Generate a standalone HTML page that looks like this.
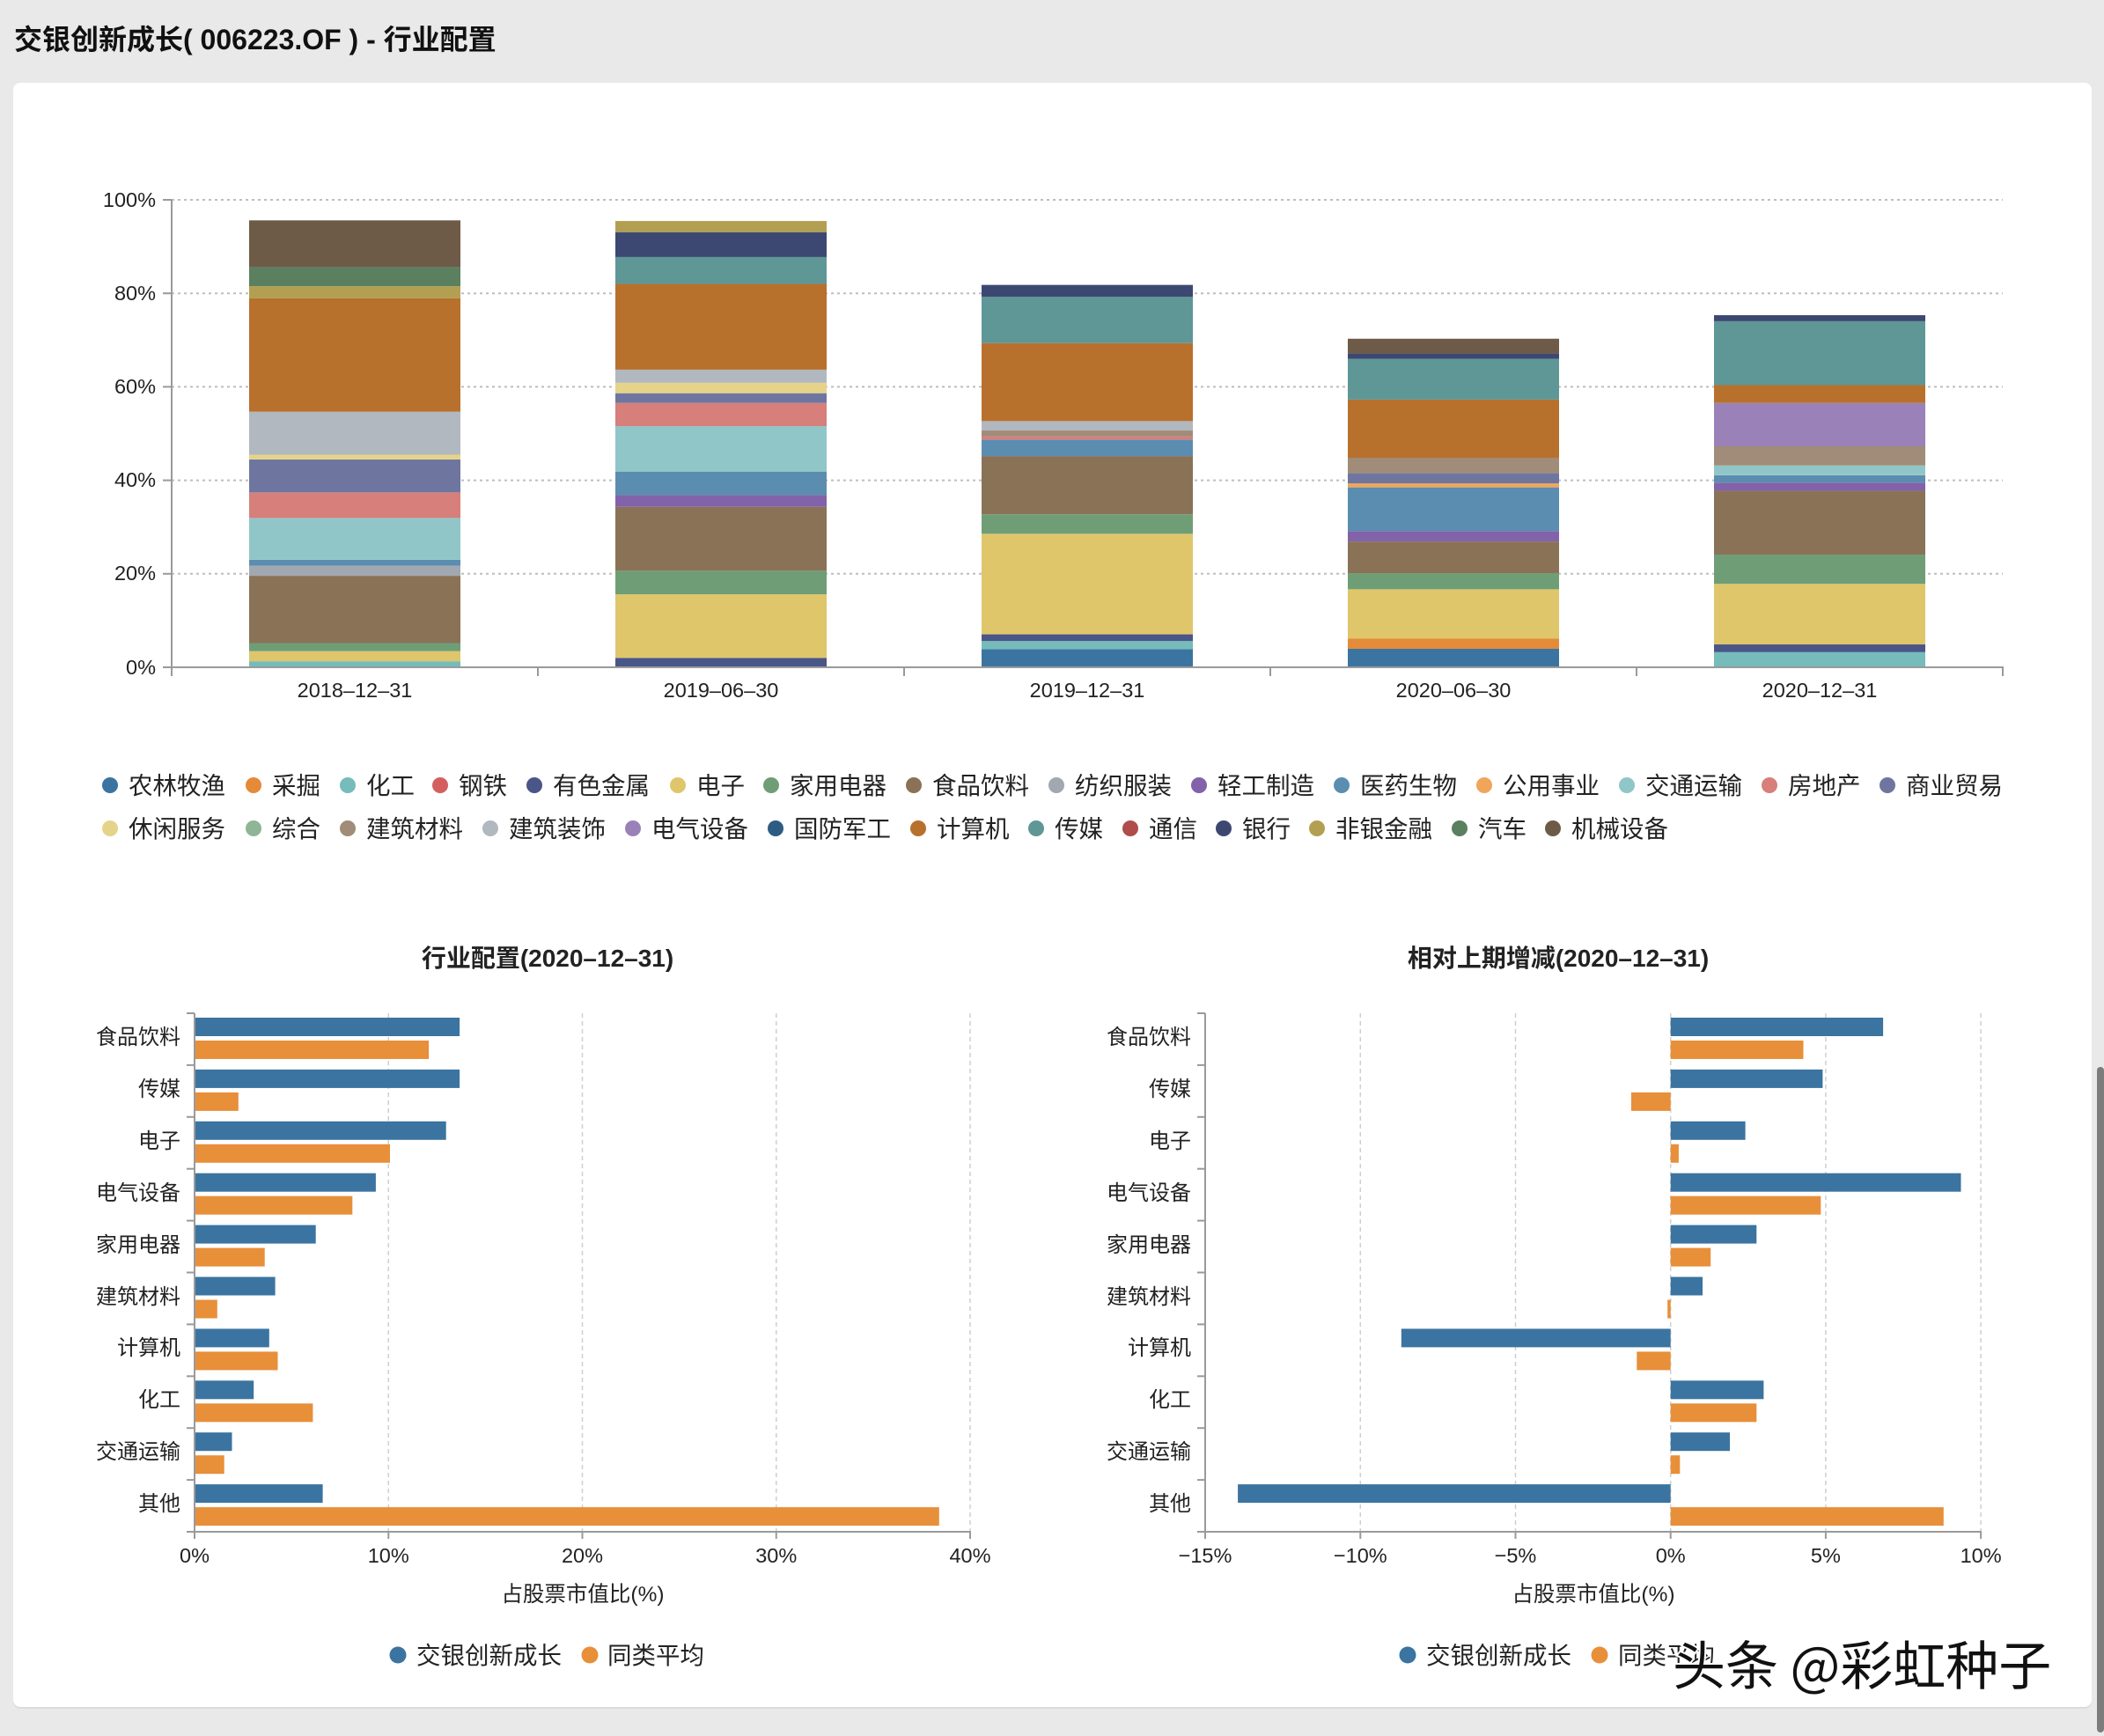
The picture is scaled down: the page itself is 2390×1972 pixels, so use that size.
<!DOCTYPE html>
<html><head><meta charset="utf-8"><style>
html,body{margin:0;padding:0;background:#e9e9e9;width:2390px;height:1972px;overflow:hidden;}
svg{display:block;font-family:"Liberation Sans","Noto Sans CJK SC",sans-serif;}
</style></head><body>
<svg width="2390" height="1972" viewBox="0 0 2390 1972" xmlns="http://www.w3.org/2000/svg">
<rect x="0" y="0" width="2390" height="1972" fill="#e9e9e9"/>
<text x="16" y="56" font-size="32" font-weight="bold" fill="#111">交银创新成长( 006223.OF ) - 行业配置</text>
<rect x="15" y="95" width="2361" height="1846" rx="8" fill="#dcdcdc"/>
<rect x="15" y="94" width="2361" height="1845" rx="8" fill="#ffffff"/>

<!-- Top chart gridlines -->
<g stroke="#bdbdbd" stroke-width="2" stroke-dasharray="3,4">
<line x1="195" y1="227" x2="2275" y2="227"/>
<line x1="195" y1="333.2" x2="2275" y2="333.2"/>
<line x1="195" y1="439.4" x2="2275" y2="439.4"/>
<line x1="195" y1="545.6" x2="2275" y2="545.6"/>
<line x1="195" y1="651.8" x2="2275" y2="651.8"/>
</g>

<!-- stacked bars -->
<g transform="translate(0,758) scale(1,-5.31)">
<!-- bar1 -->
<rect x="283" width="240" y="0" height="1.29" fill="#75bcbb"/>
<rect x="283" width="240" y="1.29" height="2.16" fill="#dfc66b"/>
<rect x="283" width="240" y="3.45" height="1.73" fill="#6f9e76"/>
<rect x="283" width="240" y="5.18" height="14.39" fill="#8a7257"/>
<rect x="283" width="240" y="19.57" height="2.16" fill="#a2a8b2"/>
<rect x="283" width="240" y="21.73" height="1.29" fill="#5b8db1"/>
<rect x="283" width="240" y="23.02" height="8.92" fill="#91c6c8"/>
<rect x="283" width="240" y="31.94" height="5.47" fill="#d67f7b"/>
<rect x="283" width="240" y="37.41" height="7.05" fill="#6e76a0"/>
<rect x="283" width="240" y="44.46" height="1.01" fill="#e6d38a"/>
<rect x="283" width="240" y="45.47" height="9.21" fill="#b2b8c0"/>
<rect x="283" width="240" y="54.68" height="24.24" fill="#b8702d"/>
<rect x="283" width="240" y="78.92" height="2.59" fill="#b39f52"/>
<rect x="283" width="240" y="81.51" height="4.10" fill="#5a8060"/>
<rect x="283" width="240" y="85.61" height="10.00" fill="#6e5b47"/>
<!-- bar2 -->
<rect x="699" width="240" y="0" height="2.01" fill="#4a5588"/>
<rect x="699" width="240" y="2.01" height="13.60" fill="#dfc66b"/>
<rect x="699" width="240" y="15.61" height="5.04" fill="#6f9e76"/>
<rect x="699" width="240" y="20.65" height="13.67" fill="#8a7257"/>
<rect x="699" width="240" y="34.32" height="2.51" fill="#8262a8"/>
<rect x="699" width="240" y="36.83" height="5.04" fill="#5b8db1"/>
<rect x="699" width="240" y="41.87" height="9.71" fill="#91c6c8"/>
<rect x="699" width="240" y="51.58" height="4.97" fill="#d67f7b"/>
<rect x="699" width="240" y="56.55" height="2.08" fill="#6e76a0"/>
<rect x="699" width="240" y="58.63" height="2.23" fill="#e6d38a"/>
<rect x="699" width="240" y="60.86" height="2.81" fill="#b2b8c0"/>
<rect x="699" width="240" y="63.67" height="18.34" fill="#b8702d"/>
<rect x="699" width="240" y="82.01" height="5.76" fill="#5e9796"/>
<rect x="699" width="240" y="87.77" height="5.32" fill="#3d4872"/>
<rect x="699" width="240" y="93.09" height="2.38" fill="#b39f52"/>
<!-- bar3 -->
<rect x="1115" width="240" y="0" height="3.88" fill="#3b74a0"/>
<rect x="1115" width="240" y="3.88" height="1.73" fill="#75bcbb"/>
<rect x="1115" width="240" y="5.61" height="1.44" fill="#4a5588"/>
<rect x="1115" width="240" y="7.05" height="21.51" fill="#dfc66b"/>
<rect x="1115" width="240" y="28.56" height="4.17" fill="#6f9e76"/>
<rect x="1115" width="240" y="32.73" height="12.45" fill="#8a7257"/>
<rect x="1115" width="240" y="45.18" height="3.53" fill="#5b8db1"/>
<rect x="1115" width="240" y="48.71" height="0.71" fill="#d67f7b"/>
<rect x="1115" width="240" y="49.42" height="1.23" fill="#a08c78"/>
<rect x="1115" width="240" y="50.65" height="2.01" fill="#b2b8c0"/>
<rect x="1115" width="240" y="52.66" height="16.69" fill="#b8702d"/>
<rect x="1115" width="240" y="69.35" height="9.93" fill="#5e9796"/>
<rect x="1115" width="240" y="79.28" height="2.52" fill="#3d4872"/>
<!-- bar4 -->
<rect x="1531" width="240" y="0" height="3.96" fill="#3b74a0"/>
<rect x="1531" width="240" y="3.96" height="2.16" fill="#e58a38"/>
<rect x="1531" width="240" y="6.12" height="10.57" fill="#dfc66b"/>
<rect x="1531" width="240" y="16.69" height="3.45" fill="#6f9e76"/>
<rect x="1531" width="240" y="20.14" height="6.77" fill="#8a7257"/>
<rect x="1531" width="240" y="26.91" height="2.23" fill="#8262a8"/>
<rect x="1531" width="240" y="29.14" height="9.35" fill="#5b8db1"/>
<rect x="1531" width="240" y="38.49" height="0.86" fill="#f0a55a"/>
<rect x="1531" width="240" y="39.35" height="2.16" fill="#6e76a0"/>
<rect x="1531" width="240" y="41.51" height="3.31" fill="#a08c78"/>
<rect x="1531" width="240" y="44.82" height="12.45" fill="#b8702d"/>
<rect x="1531" width="240" y="57.27" height="8.70" fill="#5e9796"/>
<rect x="1531" width="240" y="65.97" height="1.15" fill="#3d4872"/>
<rect x="1531" width="240" y="67.12" height="3.17" fill="#6e5b47"/>
<!-- bar5 -->
<rect x="1947" width="240" y="0" height="3.24" fill="#75bcbb"/>
<rect x="1947" width="240" y="3.24" height="1.65" fill="#4a5588"/>
<rect x="1947" width="240" y="4.89" height="12.95" fill="#dfc66b"/>
<rect x="1947" width="240" y="17.84" height="6.26" fill="#6f9e76"/>
<rect x="1947" width="240" y="24.10" height="13.67" fill="#8a7257"/>
<rect x="1947" width="240" y="37.77" height="1.73" fill="#8262a8"/>
<rect x="1947" width="240" y="39.50" height="1.58" fill="#5b8db1"/>
<rect x="1947" width="240" y="41.08" height="2.09" fill="#91c6c8"/>
<rect x="1947" width="240" y="43.17" height="4.10" fill="#a08c78"/>
<rect x="1947" width="240" y="47.27" height="9.28" fill="#9a82b8"/>
<rect x="1947" width="240" y="56.55" height="3.81" fill="#b8702d"/>
<rect x="1947" width="240" y="60.36" height="13.67" fill="#5e9796"/>
<rect x="1947" width="240" y="74.03" height="1.29" fill="#3d4872"/>
</g>

<!-- top axes -->
<g stroke="#9a9a9a" stroke-width="2">
<line x1="195" y1="227" x2="195" y2="759"/>
<line x1="185" y1="758" x2="2276" y2="758"/>
<line x1="185" y1="227" x2="195" y2="227"/>
<line x1="185" y1="333.2" x2="195" y2="333.2"/>
<line x1="185" y1="439.4" x2="195" y2="439.4"/>
<line x1="185" y1="545.6" x2="195" y2="545.6"/>
<line x1="185" y1="651.8" x2="195" y2="651.8"/>
<line x1="195" y1="758" x2="195" y2="768"/>
<line x1="611" y1="758" x2="611" y2="768"/>
<line x1="1027" y1="758" x2="1027" y2="768"/>
<line x1="1443" y1="758" x2="1443" y2="768"/>
<line x1="1859" y1="758" x2="1859" y2="768"/>
<line x1="2275" y1="758" x2="2275" y2="768"/>
</g>
<g font-size="23.5" fill="#222" text-anchor="end">
<text x="177" y="235">100%</text>
<text x="177" y="341">80%</text>
<text x="177" y="447">60%</text>
<text x="177" y="553">40%</text>
<text x="177" y="659">20%</text>
<text x="177" y="766">0%</text>
</g>
<g font-size="23.5" fill="#222" text-anchor="middle">
<text x="403" y="792">2018–12–31</text>
<text x="819" y="792">2019–06–30</text>
<text x="1235" y="792">2019–12–31</text>
<text x="1651" y="792">2020–06–30</text>
<text x="2067" y="792">2020–12–31</text>
</g>

<!-- top legend -->
<g font-size="27.5" fill="#222">
<circle cx="125" cy="892" r="9" fill="#3b74a0"/><text x="146" y="902">农林牧渔</text>
<circle cx="288" cy="892" r="9" fill="#e58a38"/><text x="309" y="902">采掘</text>
<circle cx="395" cy="892" r="9" fill="#75bcbb"/><text x="416" y="902">化工</text>
<circle cx="500" cy="892" r="9" fill="#d55f5f"/><text x="521" y="902">钢铁</text>
<circle cx="607" cy="892" r="9" fill="#4a5588"/><text x="628" y="902">有色金属</text>
<circle cx="770" cy="892" r="9" fill="#dfc66b"/><text x="791" y="902">电子</text>
<circle cx="876" cy="892" r="9" fill="#6f9e76"/><text x="897" y="902">家用电器</text>
<circle cx="1038" cy="892" r="9" fill="#8a7257"/><text x="1059" y="902">食品饮料</text>
<circle cx="1200" cy="892" r="9" fill="#a2a8b2"/><text x="1221" y="902">纺织服装</text>
<circle cx="1362" cy="892" r="9" fill="#8262a8"/><text x="1383" y="902">轻工制造</text>
<circle cx="1524" cy="892" r="9" fill="#5b8db1"/><text x="1545" y="902">医药生物</text>
<circle cx="1686" cy="892" r="9" fill="#f0a55a"/><text x="1707" y="902">公用事业</text>
<circle cx="1848" cy="892" r="9" fill="#91c6c8"/><text x="1869" y="902">交通运输</text>
<circle cx="2010" cy="892" r="9" fill="#d67f7b"/><text x="2031" y="902">房地产</text>
<circle cx="2144" cy="892" r="9" fill="#6e76a0"/><text x="2165" y="902">商业贸易</text>

<circle cx="125" cy="941" r="9" fill="#e6d38a"/><text x="146" y="951">休闲服务</text>
<circle cx="288" cy="941" r="9" fill="#8db596"/><text x="309" y="951">综合</text>
<circle cx="395" cy="941" r="9" fill="#a08c78"/><text x="416" y="951">建筑材料</text>
<circle cx="557" cy="941" r="9" fill="#b2b8c0"/><text x="578" y="951">建筑装饰</text>
<circle cx="719" cy="941" r="9" fill="#9a82b8"/><text x="740" y="951">电气设备</text>
<circle cx="881" cy="941" r="9" fill="#2e5b82"/><text x="902" y="951">国防军工</text>
<circle cx="1043" cy="941" r="9" fill="#b8702d"/><text x="1064" y="951">计算机</text>
<circle cx="1177" cy="941" r="9" fill="#5e9796"/><text x="1198" y="951">传媒</text>
<circle cx="1284" cy="941" r="9" fill="#b04c4a"/><text x="1305" y="951">通信</text>
<circle cx="1390" cy="941" r="9" fill="#3d4872"/><text x="1411" y="951">银行</text>
<circle cx="1496" cy="941" r="9" fill="#b39f52"/><text x="1517" y="951">非银金融</text>
<circle cx="1658" cy="941" r="9" fill="#5a8060"/><text x="1679" y="951">汽车</text>
<circle cx="1764" cy="941" r="9" fill="#6e5b47"/><text x="1785" y="951">机械设备</text>
</g>

<!-- bottom titles -->
<text x="622" y="1098" font-size="28" font-weight="bold" fill="#222" text-anchor="middle">行业配置(2020–12–31)</text>
<text x="1770" y="1098" font-size="28" font-weight="bold" fill="#222" text-anchor="middle">相对上期增减(2020–12–31)</text>

<!-- left chart grid -->
<g stroke="#cfcfcf" stroke-width="1.5" stroke-dasharray="5,4">
<line x1="441.25" y1="1151" x2="441.25" y2="1740"/>
<line x1="661.5" y1="1151" x2="661.5" y2="1740"/>
<line x1="881.75" y1="1151" x2="881.75" y2="1740"/>
<line x1="1102" y1="1151" x2="1102" y2="1740"/>
</g>
<!-- right chart grid -->
<g stroke="#cfcfcf" stroke-width="1.5" stroke-dasharray="5,4">
<line x1="1545.3" y1="1151" x2="1545.3" y2="1740"/>
<line x1="1721.5" y1="1151" x2="1721.5" y2="1740"/>
<line x1="1897.7" y1="1151" x2="1897.7" y2="1740"/>
<line x1="2073.9" y1="1151" x2="2073.9" y2="1740"/>
<line x1="2250.1" y1="1151" x2="2250.1" y2="1740"/>
</g>

<!-- left bars -->
<g fill="#3b74a0">
<rect x="221" y="1156" width="301.1" height="21"/>
<rect x="221" y="1214.9" width="301.1" height="21"/>
<rect x="221" y="1273.8" width="285.7" height="21"/>
<rect x="221" y="1332.7" width="205.9" height="21"/>
<rect x="221" y="1391.6" width="137.7" height="21"/>
<rect x="221" y="1450.5" width="91.6" height="21"/>
<rect x="221" y="1509.4" width="84.8" height="21"/>
<rect x="221" y="1568.3" width="67.2" height="21"/>
<rect x="221" y="1627.2" width="42.5" height="21"/>
<rect x="221" y="1686.1" width="145.6" height="21"/>
</g>
<g fill="#e88f3a">
<rect x="221" y="1182" width="266.1" height="21"/>
<rect x="221" y="1240.9" width="49.8" height="21"/>
<rect x="221" y="1299.8" width="222" height="21"/>
<rect x="221" y="1358.7" width="179.3" height="21"/>
<rect x="221" y="1417.6" width="79.7" height="21"/>
<rect x="221" y="1476.5" width="25.8" height="21"/>
<rect x="221" y="1535.4" width="94.5" height="21"/>
<rect x="221" y="1594.3" width="134.4" height="21"/>
<rect x="221" y="1653.2" width="33.7" height="21"/>
<rect x="221" y="1712.1" width="845.8" height="21"/>
</g>

<!-- right bars -->
<g fill="#3b74a0">
<rect x="1897.7" y="1156" width="241.4" height="21"/>
<rect x="1897.7" y="1214.9" width="172.7" height="21"/>
<rect x="1897.7" y="1273.8" width="84.9" height="21"/>
<rect x="1897.7" y="1332.7" width="329.8" height="21"/>
<rect x="1897.7" y="1391.6" width="97.6" height="21"/>
<rect x="1897.7" y="1450.5" width="36.3" height="21"/>
<rect x="1591.8" y="1509.4" width="305.9" height="21"/>
<rect x="1897.7" y="1568.3" width="105.7" height="21"/>
<rect x="1897.7" y="1627.2" width="67.3" height="21"/>
<rect x="1406.1" y="1686.1" width="491.6" height="21"/>
</g>
<g fill="#e88f3a">
<rect x="1897.7" y="1182" width="150.8" height="21"/>
<rect x="1852.9" y="1240.9" width="44.8" height="21"/>
<rect x="1897.7" y="1299.8" width="9.2" height="21"/>
<rect x="1897.7" y="1358.7" width="170.6" height="21"/>
<rect x="1897.7" y="1417.6" width="45.5" height="21"/>
<rect x="1894.2" y="1476.5" width="3.5" height="21"/>
<rect x="1859.3" y="1535.4" width="38.4" height="21"/>
<rect x="1897.7" y="1594.3" width="97.6" height="21"/>
<rect x="1897.7" y="1653.2" width="10.6" height="21"/>
<rect x="1897.7" y="1712.1" width="310.1" height="21"/>
</g>

<!-- left axes -->
<g stroke="#9a9a9a" stroke-width="2">
<line x1="221" y1="1151" x2="221" y2="1741"/>
<line x1="212" y1="1740" x2="1103" y2="1740"/>
<line x1="212" y1="1151" x2="221" y2="1151"/>
<line x1="212" y1="1209.9" x2="221" y2="1209.9"/>
<line x1="212" y1="1268.8" x2="221" y2="1268.8"/>
<line x1="212" y1="1327.7" x2="221" y2="1327.7"/>
<line x1="212" y1="1386.6" x2="221" y2="1386.6"/>
<line x1="212" y1="1445.5" x2="221" y2="1445.5"/>
<line x1="212" y1="1504.4" x2="221" y2="1504.4"/>
<line x1="212" y1="1563.3" x2="221" y2="1563.3"/>
<line x1="212" y1="1622.2" x2="221" y2="1622.2"/>
<line x1="212" y1="1681.1" x2="221" y2="1681.1"/>
<line x1="221" y1="1740" x2="221" y2="1748"/>
<line x1="441.25" y1="1740" x2="441.25" y2="1748"/>
<line x1="661.5" y1="1740" x2="661.5" y2="1748"/>
<line x1="881.75" y1="1740" x2="881.75" y2="1748"/>
<line x1="1102" y1="1740" x2="1102" y2="1748"/>
</g>
<!-- right axes -->
<g stroke="#9a9a9a" stroke-width="2">
<line x1="1369" y1="1151" x2="1369" y2="1741"/>
<line x1="1360" y1="1740" x2="2251" y2="1740"/>
<line x1="1360" y1="1151" x2="1369" y2="1151"/>
<line x1="1360" y1="1209.9" x2="1369" y2="1209.9"/>
<line x1="1360" y1="1268.8" x2="1369" y2="1268.8"/>
<line x1="1360" y1="1327.7" x2="1369" y2="1327.7"/>
<line x1="1360" y1="1386.6" x2="1369" y2="1386.6"/>
<line x1="1360" y1="1445.5" x2="1369" y2="1445.5"/>
<line x1="1360" y1="1504.4" x2="1369" y2="1504.4"/>
<line x1="1360" y1="1563.3" x2="1369" y2="1563.3"/>
<line x1="1360" y1="1622.2" x2="1369" y2="1622.2"/>
<line x1="1360" y1="1681.1" x2="1369" y2="1681.1"/>
<line x1="1369" y1="1740" x2="1369" y2="1748"/>
<line x1="1545.3" y1="1740" x2="1545.3" y2="1748"/>
<line x1="1721.5" y1="1740" x2="1721.5" y2="1748"/>
<line x1="1897.7" y1="1740" x2="1897.7" y2="1748"/>
<line x1="2073.9" y1="1740" x2="2073.9" y2="1748"/>
<line x1="2250.1" y1="1740" x2="2250.1" y2="1748"/>
</g>

<!-- category labels -->
<g font-size="24" fill="#222" text-anchor="end">
<text x="205" y="1186">食品饮料</text>
<text x="205" y="1245">传媒</text>
<text x="205" y="1304">电子</text>
<text x="205" y="1363">电气设备</text>
<text x="205" y="1422">家用电器</text>
<text x="205" y="1481">建筑材料</text>
<text x="205" y="1539">计算机</text>
<text x="205" y="1598">化工</text>
<text x="205" y="1657">交通运输</text>
<text x="205" y="1716">其他</text>
<text x="1353" y="1186">食品饮料</text>
<text x="1353" y="1245">传媒</text>
<text x="1353" y="1304">电子</text>
<text x="1353" y="1363">电气设备</text>
<text x="1353" y="1422">家用电器</text>
<text x="1353" y="1481">建筑材料</text>
<text x="1353" y="1539">计算机</text>
<text x="1353" y="1598">化工</text>
<text x="1353" y="1657">交通运输</text>
<text x="1353" y="1716">其他</text>
</g>
<g font-size="23.5" fill="#222" text-anchor="middle">
<text x="221" y="1775">0%</text>
<text x="441.25" y="1775">10%</text>
<text x="661.5" y="1775">20%</text>
<text x="881.75" y="1775">30%</text>
<text x="1102" y="1775">40%</text>
<text x="1369" y="1775">−15%</text>
<text x="1545.3" y="1775">−10%</text>
<text x="1721.5" y="1775">−5%</text>
<text x="1897.7" y="1775">0%</text>
<text x="2073.9" y="1775">5%</text>
<text x="2250.1" y="1775">10%</text>
</g>
<g font-size="24.5" fill="#222" text-anchor="middle">
<text x="662" y="1819">占股票市值比(%)</text>
<text x="1810" y="1819">占股票市值比(%)</text>
</g>

<!-- bottom legends -->
<g font-size="27.5" fill="#222">
<circle cx="452" cy="1880" r="9.5" fill="#3b74a0"/><text x="473" y="1890">交银创新成长</text>
<circle cx="670" cy="1880" r="9.5" fill="#e88f3a"/><text x="690" y="1890">同类平均</text>
<circle cx="1599" cy="1880" r="9.5" fill="#3b74a0"/><text x="1620" y="1890">交银创新成长</text>
<circle cx="1817" cy="1880" r="9.5" fill="#e88f3a"/><text x="1838" y="1890">同类平均</text>
</g>

<!-- watermark -->
<text x="1900" y="1914" font-size="60" fill="#111" stroke="#ffffff" stroke-width="4" paint-order="stroke" font-family="'Noto Sans CJK SC','Liberation Sans',sans-serif">头条 @彩虹种子</text>

<!-- scrollbar -->
<rect x="2382" y="1212" width="8" height="756" rx="4" fill="#7c7c7c"/>
</svg>
</body></html>
